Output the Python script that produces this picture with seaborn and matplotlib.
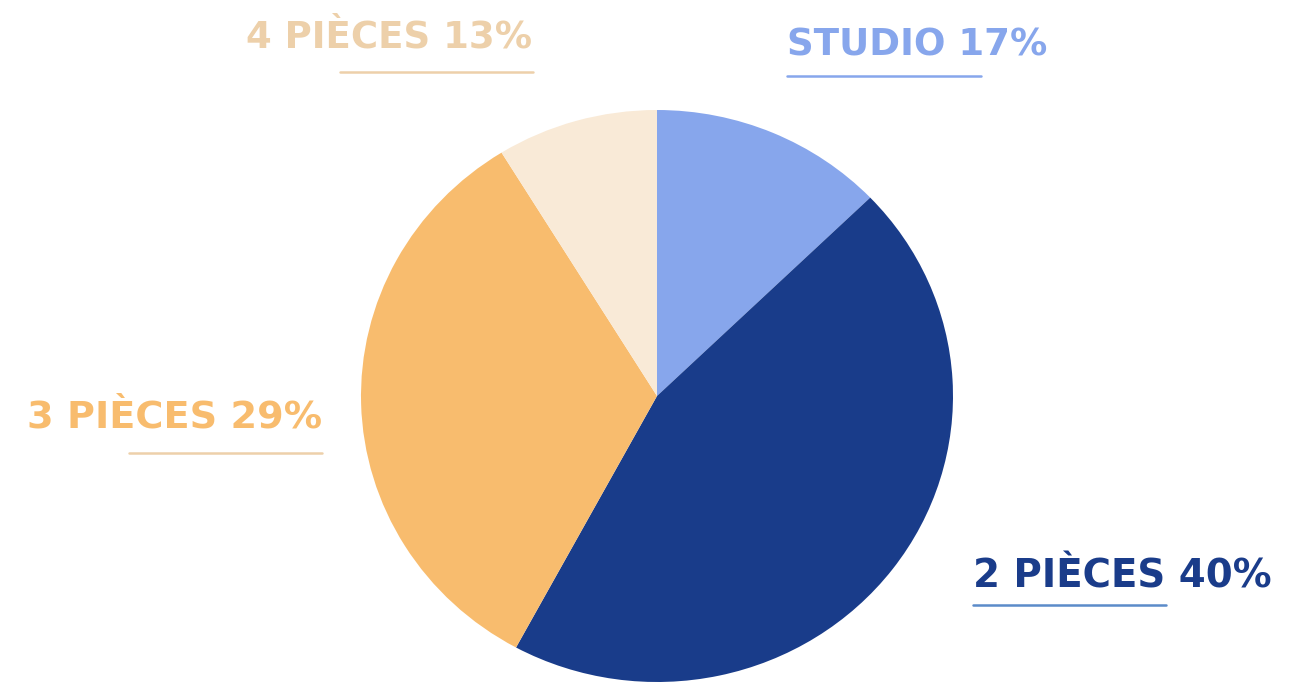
import matplotlib
matplotlib.use('Agg')
import matplotlib.pyplot as plt
import seaborn as sns
from matplotlib.lines import Line2D

categories = ['STUDIO', '2 PIÈCES', '3 PIÈCES', '4 PIÈCES']
slice_values = [12.8, 45.1, 33.3, 8.8]
label_pct = ['17%', '40%', '29%', '13%']

slice_colors = ['#87A6EC', '#193C8A', '#F8BC6E', '#F9EAD7']
text_colors = ['#87A6EC', '#1A3C8A', '#F8BC6E', '#EDD0AA']
line_colors = ['#87A6EC', '#5B8BC9', '#EDD0AA', '#EDD0AA']

sns.set_theme(style='white')
plt.rcParams['font.family'] = ['DejaVu Sans']

W, H = 1307, 683
fig = plt.figure(figsize=(W / 100, H / 100), dpi=100)


def fx(x):
    return x / W


def fy(y):
    return 1 - y / H


# pie is slightly wider than tall in the reference
ax = fig.add_axes([fx(361), fy(682), 592 / W, 572 / H])
ax.pie(slice_values, colors=slice_colors, startangle=90, counterclock=False,
       wedgeprops=dict(linewidth=0))
ax.set_aspect('auto')
ax.set_xlim(-1, 1)
ax.set_ylim(-1, 1)
ax.axis('off')

# label x start, x end, baseline y, underline x0, x1, y
label_pos = [
    (787, 1047, 55, 787, 981, 76),
    (973, 1272, 587, 973, 1166, 605),
    (27, 322, 427, 129, 322, 453),
    (246, 532, 48, 340, 533, 72),
]

renderer = fig.canvas.get_renderer()
for i, cat in enumerate(categories):
    x, xe, yb, lx0, lx1, ly = label_pos[i]
    t = fig.text(fx(x), fy(yb), f'{cat} {label_pct[i]}', color=text_colors[i],
                 fontsize=28, fontweight='bold', ha='left', va='baseline')
    # fit text width to the reference
    w = t.get_window_extent(renderer).width
    t.set_fontsize(28 * (xe - x) / w)
    fig.add_artist(Line2D([fx(lx0), fx(lx1)], [fy(ly), fy(ly)],
                          color=line_colors[i], linewidth=1.8))

fig.savefig('out.png', dpi=100)
